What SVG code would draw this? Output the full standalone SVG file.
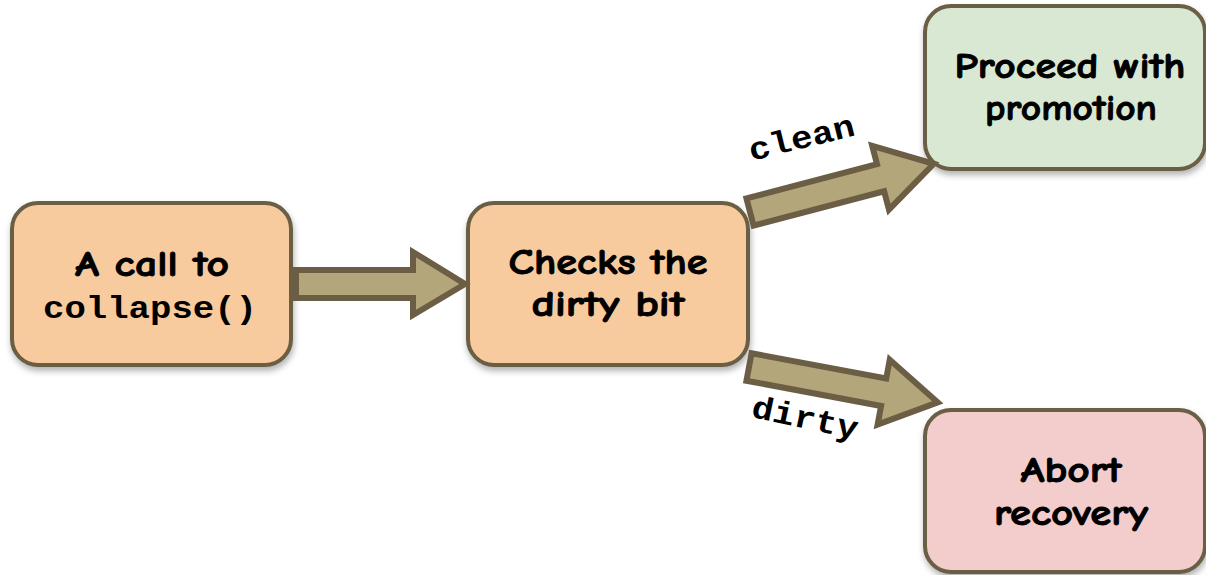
<svg xmlns="http://www.w3.org/2000/svg" width="1206" height="575" viewBox="0 0 1206 575">
<style>
.box{stroke:#6b5e45;stroke-width:4}
.lbl{font-family:"Comic Sans MS","Comic Neue","DejaVu Sans",sans-serif;font-weight:bold;font-size:36px;fill:#000;stroke:#000;stroke-width:0.9;text-anchor:middle}
.mono{font-family:"Courier New","Liberation Mono",monospace;font-weight:bold;font-size:32px;fill:#000;text-anchor:middle}
.arr{fill:#b2a67a;stroke:#6b5e45;stroke-width:6;stroke-linejoin:miter}
</style>
<defs>
<filter id="sh" x="-10%" y="-10%" width="125%" height="130%">
<feDropShadow dx="1" dy="4" stdDeviation="3" flood-color="#000" flood-opacity="0.3"/>
</filter>
</defs>
<rect width="1206" height="575" fill="#fff"/>
<g id="n1"><rect class="box" x="12" y="203" width="279" height="162" rx="26" fill="#f8cb9e" filter="url(#sh)"/>
<text class="lbl" x="152" y="276" textLength="154" lengthAdjust="spacingAndGlyphs">A call to</text>
<text class="mono" x="150" y="318" textLength="214" lengthAdjust="spacingAndGlyphs">collapse()</text></g>
<g id="n2"><rect class="box" x="468" y="203" width="280" height="162" rx="26" fill="#f8cb9e" filter="url(#sh)"/>
<text class="lbl" x="608" y="274" textLength="199" lengthAdjust="spacingAndGlyphs">Checks the</text>
<text class="lbl" x="608" y="316" textLength="153" lengthAdjust="spacingAndGlyphs">dirty bit</text></g>
<g id="n3"><rect class="box" x="925" y="6" width="280" height="163" rx="26" fill="#d9e8d2" filter="url(#sh)"/>
<text class="lbl" x="1070" y="78" textLength="231" lengthAdjust="spacingAndGlyphs">Proceed with</text>
<text class="lbl" x="1071" y="120" textLength="172" lengthAdjust="spacingAndGlyphs">promotion</text></g>
<g id="n4"><rect class="box" x="925" y="410" width="280" height="162" rx="26" fill="#f3cccc" filter="url(#sh)"/>
<text class="lbl" x="1071" y="482" textLength="101" lengthAdjust="spacingAndGlyphs">Abort</text>
<text class="lbl" x="1071" y="525" textLength="154" lengthAdjust="spacingAndGlyphs">recovery</text></g>
<g id="connectors">
<path class="arr" d="M296,270 L413,270 L413,252 L465,284 L413,315 L413,298 L296,298 Z"/>
<g transform="translate(750,212) rotate(-14.7)"><path class="arr" d="M0,-14 L135,-14 L135,-33 L190,0 L135,33 L135,14 L0,14 Z"/></g>
<g transform="translate(749,367) rotate(10.6)"><path class="arr" d="M0,-14 L137,-14 L137,-33 L192,0 L137,33 L137,14 L0,14 Z"/></g>
<text class="mono" transform="translate(804,148) rotate(-14)" x="0" y="0" textLength="108" lengthAdjust="spacingAndGlyphs">clean</text>
<text class="mono" transform="translate(803,428) rotate(12)" x="0" y="0" textLength="108" lengthAdjust="spacingAndGlyphs">dirty</text>
</g>
</svg>
